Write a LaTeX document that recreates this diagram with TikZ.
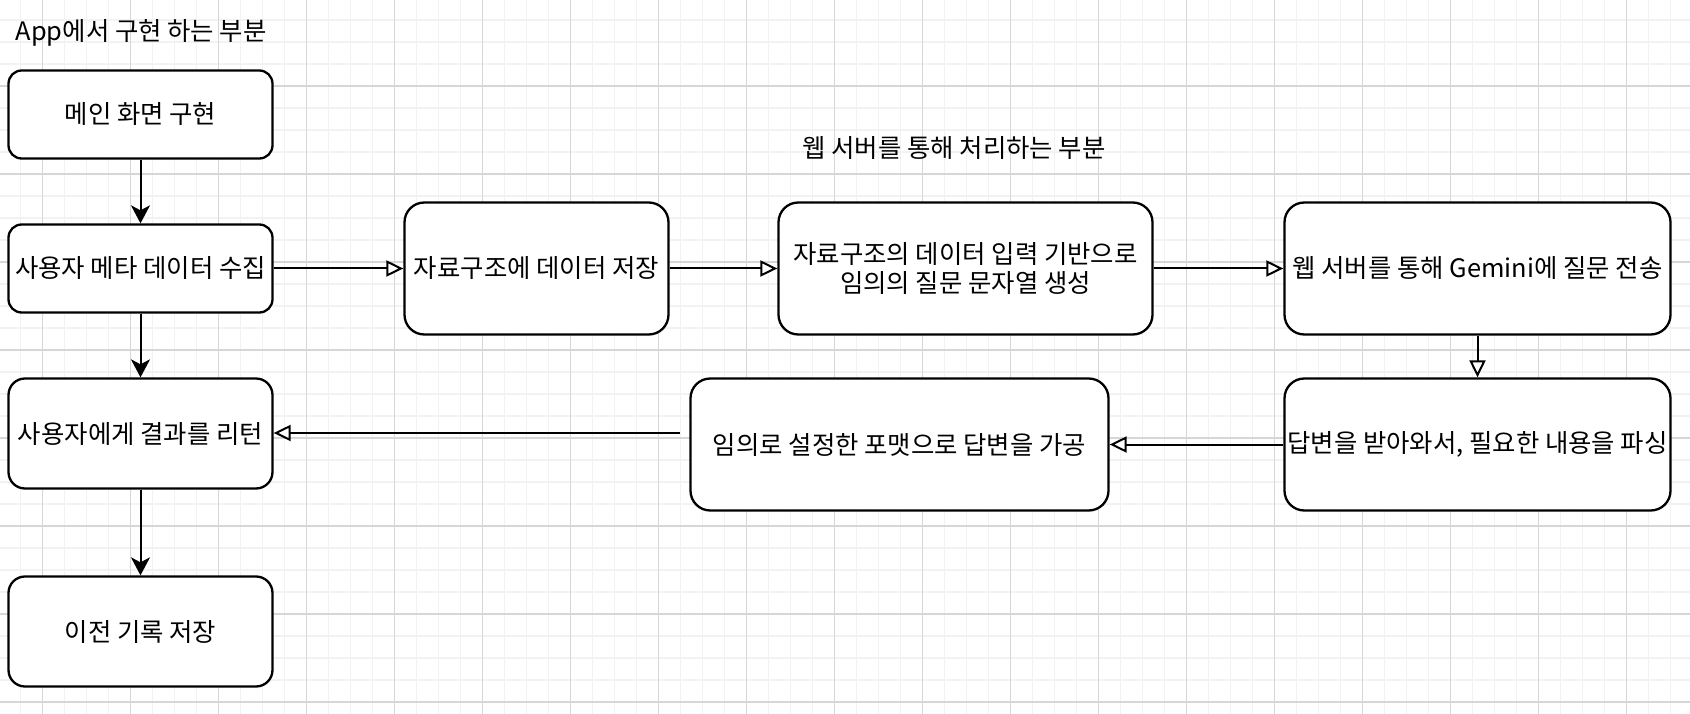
\documentclass[tikz,border=0pt]{standalone}
\usepackage{fontspec}
\setmainfont{Noto Sans CJK KR}
\usetikzlibrary{arrows.meta}
\definecolor{gridminor}{RGB}{242,242,242}
\definecolor{gridmajor}{RGB}{214,214,214}
\begin{document}
\begin{tikzpicture}[x=1pt,y=-1pt,
  txt/.style={font={\fontsize{25.4}{28.3}\selectfont\lineskiplimit=-100pt}},
  box/.style={draw=black, line width=2.3pt, fill=white, inner sep=0pt,
    minimum width=264pt, minimum height=88pt, rounded corners=13.2pt,
    txt, align=center},
  tall/.style={minimum height=110pt, rounded corners=16.5pt},
  big/.style={minimum height=132pt, rounded corners=19.8pt},
  title/.style={inner sep=0pt, txt},
  solidarrow/.style={draw=black, line width=2pt, -{Stealth[length=18pt,width=19pt,inset=5pt]}},
  openarrow/.style={draw=black, line width=2pt, -{Triangle[open,length=17pt,width=16pt,fill=white]}},
  minorline/.style={draw=gridminor, line width=1.6pt},
  majorline/.style={draw=gridmajor, line width=1.1pt}
]
\useasboundingbox (0,0) rectangle (1690,714);
\fill[white] (0,0) rectangle (1690,714);
\begin{scope}
\clip (0,0) rectangle (1690,714);
\foreach \k in {-1,...,76} \draw[minorline] ({20.3+22*\k},0) -- ({20.3+22*\k},714);
\foreach \k in {0,...,32} \draw[minorline] (0,{20+22*(\k-1)}) -- (1690,{20+22*(\k-1)});
\foreach \k in {0,...,18} \draw[majorline] ({42.3+88*\k},0) -- ({42.3+88*\k},714);
\foreach \k in {0,...,7} \draw[majorline] (0,{86+88*\k}) -- (1690,{86+88*\k});
\end{scope}

\node[title, anchor=west] (t1) at (15.5,33.3) {App에서 구현 하는 부분};
\node[title] (t2) at (954,147.7) {웹 서버를 통해 처리하는 부분};

\node[box] (b1) at (140.5,114.5) {메인 화면 구현};
\node[box] (b2) at (140.5,268.5) {사용자 메타 데이터 수집};
\node[box, tall] (b3) at (140.5,433.5) {사용자에게 결과를 리턴};
\node[box, tall] (b4) at (140.5,631.5) {이전 기록 저장};
\node[box, big] (b5) at (536.5,268.5) {자료구조에 데이터 저장};
\node[box, big, minimum width=374pt] (b6) at (965.5,268.5) {자료구조의 데이터 입력 기반으로\\임의의 질문 문자열 생성};
\node[box, big, minimum width=386pt] (b7) at (1477.5,268.5) {웹 서버를 통해 Gemini에 질문 전송};
\node[box, big, minimum width=386pt] (b8) at (1477.5,444.5) {답변을 받아와서, 필요한 내용을 파싱};
\node[box, big, minimum width=418pt] (b9) at (899.5,444.5) {임의로 설정한 포맷으로 답변을 가공};

\coordinate (s9) at (680,433);

\draw[solidarrow] (b1) -- (b2);
\draw[solidarrow] (b2) -- (b3);
\draw[solidarrow] (b3) -- (b4);
\draw[openarrow] (b2) -- (b5);
\draw[openarrow] (b5) -- (b6);
\draw[openarrow] (b6) -- (b7);
\draw[openarrow] (b7) -- (b8);
\draw[openarrow] (b8) -- (b9);
\draw[openarrow] (s9) -- (s9 -| b3.east);
\end{tikzpicture}
\end{document}
